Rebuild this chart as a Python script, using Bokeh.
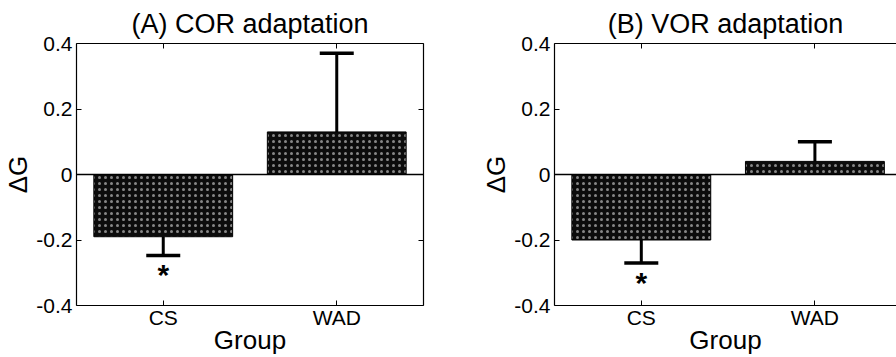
from bokeh.plotting import figure
from bokeh.layouts import row
from bokeh.models import (ColumnDataSource, Whisker, TeeHead, Span, LinearAxis,
                          FixedTicker, Range1d)
from bokeh.embed import file_html
from bokeh.resources import INLINE
from bokeh.core.properties import value

# Gain change per group, with one-sided error (SEM)
groups = ["CS", "WAD"]
cor_gain_change = [-0.19, 0.13]
cor_error = [0.057, 0.24]
vor_gain_change = [-0.20, 0.04]
vor_error = [0.07, 0.06]
significant = [True, False]

y_ticks = [-0.4, -0.2, 0, 0.2, 0.4]
y_tick_labels = ["-0.4", "-0.2", "0", "0.2", "0.4"]

FONT = "Liberation Sans"


def make_panel(title, gains, errors, width, x_end, border_right, right_axis):
    xs = list(range(1, len(groups) + 1))
    tips = [g + (e if g >= 0 else -e) for g, e in zip(gains, errors)]
    src = ColumnDataSource(dict(x=xs, gain=gains, tip=tips))

    p = figure(width=width, height=357, x_range=Range1d(0.5, x_end),
               y_range=Range1d(-0.4, 0.4), output_backend="svg",
               toolbar_location=None, min_border_left=74,
               min_border_right=border_right, min_border_top=43,
               min_border_bottom=0)
    p.outline_line_color = None
    p.grid.visible = False
    p.background_fill_color = "white"
    p.border_fill_color = "white"

    p.title.text = title
    p.title.align = "center"
    p.title.text_font = FONT
    p.title.text_font_size = "27px"
    p.title.text_font_style = "normal"
    p.title.text_color = "black"
    p.title.standoff = 9

    # bars with a stippled fill
    p.vbar(x="x", top="gain", bottom=0, width=0.8, source=src,
           fill_color="#0c0c0c", line_color="black", line_width=1,
           hatch_pattern="dot", hatch_color="#d8d8d8", hatch_scale=6,
           hatch_weight=0.6, hatch_alpha=0.6)

    # one-sided error bars
    wh = Whisker(source=src, base="x", lower="gain", upper="tip",
                 line_color="black", line_width=3,
                 upper_head=TeeHead(size=34, line_color="black", line_width=3.5),
                 lower_head=None)
    p.add_layout(wh)

    p.add_layout(Span(location=0, dimension="width", line_color="black",
                      line_width=1.5))

    # significance marker below the error bar
    sx = [x for x, s in zip(xs, significant) if s]
    sy = [t for t, s in zip(tips, significant) if s]
    p.text(x=sx, y=sy, text=["*"] * len(sx), text_align="center",
           text_baseline="top", y_offset=3, text_font=value(FONT),
           text_font_size="30px", text_font_style="bold", text_color="black")

    # bottom axis
    xa = p.xaxis[0]
    xa.ticker = FixedTicker(ticks=xs)
    xa.major_label_overrides = {x: g for x, g in zip(xs, groups)}
    xa.axis_label = "Group"
    for ax in [xa, p.yaxis[0]]:
        ax.major_tick_in = 5
        ax.major_tick_out = 0
        ax.minor_tick_line_color = None
        ax.axis_line_color = "black"
        ax.axis_line_width = 1.2
        ax.major_tick_line_color = "black"
        ax.major_label_text_font = FONT
        ax.major_label_text_color = "black"
        ax.axis_label_text_font = FONT
        ax.axis_label_text_font_style = "normal"
        ax.axis_label_text_color = "black"
        ax.axis_label_text_font_size = "26px"
    xa.major_label_text_font_size = "21px"
    xa.major_label_standoff = 0
    xa.axis_label_standoff = -7

    ya = p.yaxis[0]
    ya.ticker = FixedTicker(ticks=y_ticks)
    ya.major_label_overrides = {t: l for t, l in zip(y_ticks, y_tick_labels)}
    ya.major_label_text_font_size = "21px"
    ya.major_label_standoff = 4
    ya.axis_label = "ΔG"
    ya.axis_label_standoff = 0

    # box ticks on the top (and right) edges
    extra = [("above", FixedTicker(ticks=xs))]
    if right_axis:
        extra.append(("right", FixedTicker(ticks=y_ticks)))
    for side, ticker in extra:
        ax = LinearAxis(ticker=ticker, major_tick_in=5, major_tick_out=0,
                        minor_tick_line_color=None, axis_line_color="black",
                        axis_line_width=1.2, major_label_text_font_size="1px",
                        major_label_text_color=None, major_label_standoff=0)
        p.add_layout(ax, side)
    return p


pa = make_panel("(A) COR adaptation", cor_gain_change, cor_error,
                width=478, x_end=2.5, border_right=55, right_axis=True)
pb = make_panel("(B) VOR adaptation", vor_gain_change, vor_error,
                width=418, x_end=2.47, border_right=0, right_axis=False)

layout = row(pa, pb)
open("out.html", "w").write(file_html(layout, INLINE))
